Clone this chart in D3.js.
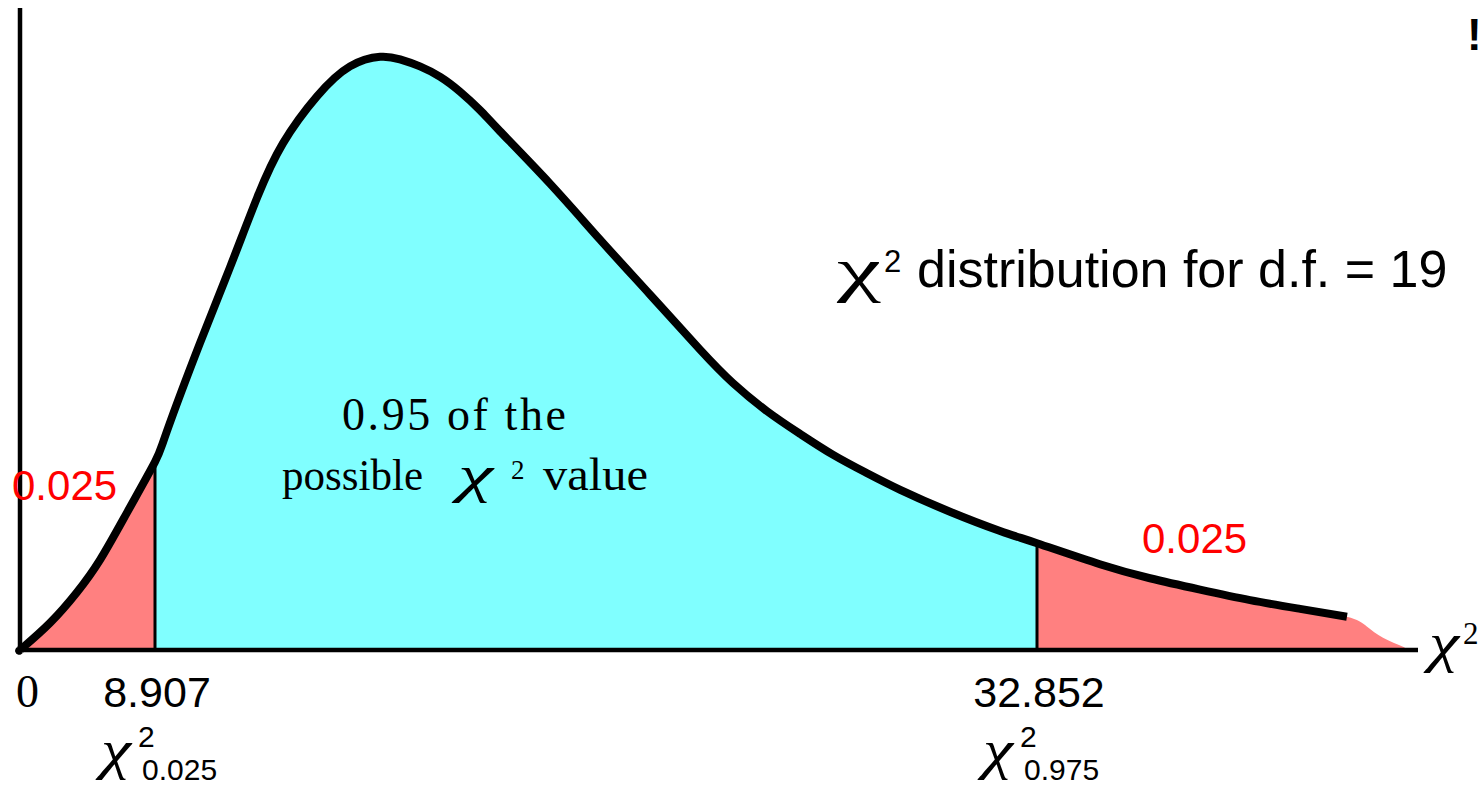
<!DOCTYPE html>
<html>
<head>
<meta charset="utf-8">
<script src="https://cdn.jsdelivr.net/npm/d3@7"></script>
<style>
  html, body { margin: 0; padding: 0; background: #fff; }
  svg { display: block; }
  .sans { font-family: "Liberation Sans", Arial, sans-serif; }
  .serif { font-family: "Liberation Serif", "Times New Roman", serif; }
</style>
</head>
<body>
<svg id="chart" width="1483" height="787"></svg>
<script>
// Chi-square density curve, d.f. = 19 (sketched shape, horizontal axis drawn non-uniformly)
const chiX = [0, 0.20, 1.98, 3.76, 5.28, 7.06, 8.907, 9.23, 10.13, 10.94, 11.68, 12.38, 13.31,
  14.20, 15.02, 15.56, 16.10, 16.65, 17.19, 17.73, 18.27, 19.63, 20.99, 22.35, 23.71,
  24.60, 25.52, 26.42, 27.32, 28.24, 29.14, 30.49, 31.85, 32.852, 34.56, 35.92, 37.28,
  38.64, 40.00, 41.27];
const density = [0, 0.0003, 0.0031, 0.0066, 0.0103, 0.0157, 0.0215, 0.0250, 0.0351, 0.0437, 0.0517, 0.0579, 0.0633,
  0.0667, 0.0678, 0.0675, 0.0667, 0.0655, 0.0638, 0.0617, 0.0593, 0.0533, 0.0469, 0.0406, 0.0343,
  0.0305, 0.0273, 0.0247, 0.0223, 0.0202, 0.0183, 0.0158, 0.0136, 0.0122, 0.0098, 0.0082, 0.0069,
  0.0057, 0.0047, 0.0038];

// shaded tail that runs on past the end of the drawn curve
const tailX = [41.81, 42.25, 42.84];
const tailDensity = [0.0027, 0.0014, 0.0003];

// critical values and tail probabilities
const criticalValues = [8.907, 32.852];
const criticalNames = ["0.025", "0.975"];
const tailProbs = ["0.025", "0.025"];
const originLabel = "0";

const svg = d3.select("#chart");

const x = d3.scaleLinear()
  .domain([0, criticalValues[0], criticalValues[1], 43.2])
  .range([20, 155, 1037, 1418]);
const y = d3.scaleLinear().domain([0, 0.072]).range([650, 20]);

const curvePts = chiX.map((v, i) => [v, density[i]]);
const fillPts = curvePts.concat(tailX.map((v, i) => [v, tailDensity[i]]));

const area = d3.area()
  .x(d => x(d[0])).y0(y(0)).y1(d => y(d[1]))
  .curve(d3.curveNatural);
const line = d3.line()
  .x(d => x(d[0])).y(d => y(d[1]))
  .curve(d3.curveNatural);

// middle 95% region clip
svg.append("defs").append("clipPath").attr("id", "mid")
  .append("rect")
  .attr("x", x(criticalValues[0])).attr("y", 0)
  .attr("width", x(criticalValues[1]) - x(criticalValues[0]))
  .attr("height", y(0));

// both tails in red, centre in cyan
svg.append("path").datum(fillPts).attr("d", area).attr("fill", "#ff8080");
svg.append("path").datum(fillPts).attr("d", area).attr("fill", "#80ffff")
  .attr("clip-path", "url(#mid)");

// boundaries at the critical values
criticalValues.forEach(cv => {
  const h = density[chiX.indexOf(cv)];
  svg.append("line")
    .attr("x1", x(cv)).attr("x2", x(cv))
    .attr("y1", y(0)).attr("y2", y(h))
    .attr("stroke", "#000").attr("stroke-width", 3);
});

// axes
svg.append("line").attr("x1", 20).attr("x2", 20).attr("y1", 8).attr("y2", 652)
  .attr("stroke", "#000").attr("stroke-width", 4.5);
svg.append("line").attr("x1", 18).attr("x2", x(43.2)).attr("y1", y(0)).attr("y2", y(0))
  .attr("stroke", "#000").attr("stroke-width", 4.5);

// density curve
svg.append("path").datum(curvePts).attr("d", line)
  .attr("fill", "none").attr("stroke", "#000").attr("stroke-width", 8)
  .attr("stroke-linejoin", "round");

// axis title
svg.append("text").attr("class", "serif").attr("font-style", "italic")
  .attr("x", 1429).attr("y", 661).attr("font-size", 54)
  .attr("textLength", 30).attr("lengthAdjust", "spacingAndGlyphs").text("χ");
svg.append("text").attr("class", "serif")
  .attr("x", 1463).attr("y", 644).attr("font-size", 31).text("2");

// tick labels
svg.append("text").attr("class", "serif").attr("x", x(0) - 4).attr("y", 707)
  .attr("font-size", 46).text(originLabel);
criticalValues.forEach((cv, i) => {
  svg.append("text").attr("class", "sans").attr("text-anchor", "middle")
    .attr("x", x(cv) + 2).attr("y", 707).attr("font-size", 43).text(String(cv));
  const g = svg.append("g").attr("transform", `translate(${x(cv) - 54},0)`);
  g.append("text").attr("class", "serif").attr("font-style", "italic")
    .attr("x", 0).attr("y", 768).attr("font-size", 55)
    .attr("textLength", 30).attr("lengthAdjust", "spacingAndGlyphs").text("χ");
  g.append("text").attr("class", "sans")
    .attr("x", 37).attr("y", 747).attr("font-size", 30).text("2");
  g.append("text").attr("class", "sans")
    .attr("x", 41).attr("y", 780).attr("font-size", 30).text(criticalNames[i]);
});

// tail probabilities
const red = "#ff0000";
svg.append("text").attr("class", "sans").attr("fill", red)
  .attr("x", 12).attr("y", 500).attr("font-size", 42).text(tailProbs[0]);
svg.append("text").attr("class", "sans").attr("fill", red)
  .attr("x", 1142).attr("y", 553).attr("font-size", 42).text(tailProbs[1]);

// centre annotation
svg.append("text").attr("class", "serif")
  .attr("x", 342).attr("y", 430).attr("font-size", 46)
  .attr("textLength", 224).attr("lengthAdjust", "spacing").text("0.95 of the");
svg.append("text").attr("class", "serif")
  .attr("x", 282).attr("y", 490).attr("font-size", 45)
  .attr("textLength", 141).attr("lengthAdjust", "spacingAndGlyphs").text("possible");
svg.append("text").attr("class", "serif").attr("font-style", "italic")
  .attr("x", 458).attr("y", 492).attr("font-size", 52)
  .attr("textLength", 35).attr("lengthAdjust", "spacingAndGlyphs").text("χ");
svg.append("text").attr("class", "serif")
  .attr("x", 511).attr("y", 479).attr("font-size", 27).text("2");
svg.append("text").attr("class", "serif")
  .attr("x", 543).attr("y", 490).attr("font-size", 46)
  .attr("textLength", 105).attr("lengthAdjust", "spacingAndGlyphs").text("value");

// title
svg.append("text").attr("class", "serif")
  .attr("x", 837).attr("y", 290).attr("font-size", 62)
  .attr("textLength", 44).attr("lengthAdjust", "spacingAndGlyphs").text("χ");
svg.append("text").attr("class", "sans")
  .attr("x", 884).attr("y", 272).attr("font-size", 31).text("2");
svg.append("text").attr("class", "sans")
  .attr("x", 917).attr("y", 287).attr("font-size", 52).text("distribution for d.f. = 19");

svg.append("text").attr("class", "sans").attr("x", 1467).attr("y", 50)
  .attr("font-size", 44).attr("font-weight", "bold").text("!");
</script>
</body>
</html>
